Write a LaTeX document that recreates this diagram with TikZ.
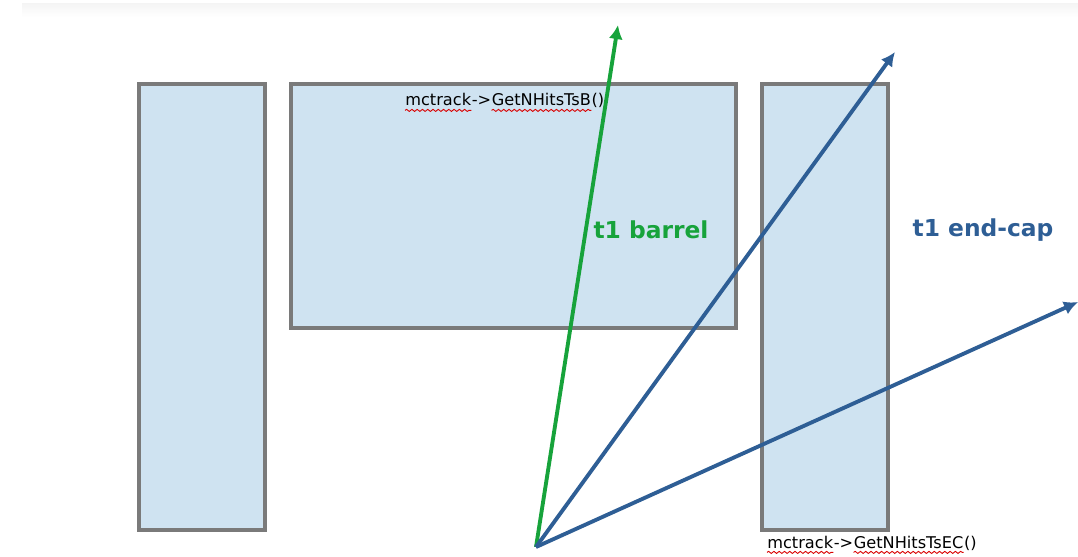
\documentclass[tikz,border=0pt]{standalone}
\usepackage{fontspec}
\setmainfont{DejaVu Sans}
\usetikzlibrary{arrows.meta,positioning,decorations.pathmorphing}
\definecolor{detfill}{HTML}{CFE3F1}
\definecolor{detline}{HTML}{7A7A7A}
\definecolor{trkgreen}{HTML}{17A33B}
\definecolor{trkblue}{HTML}{2E5E95}

\begin{document}
\begin{tikzpicture}[
  x=0.02cm, y=-0.02cm,
  det/.style={draw=detline, fill=detfill, line width=2pt},
  trk/.style={-{Latex[length=8pt, width=8pt]}, line width=2.2pt},
  code/.style={inner sep=0pt, font=\fontsize{9.2}{11}\selectfont},
  lbl/.style={font=\fontsize{13.3}{16}\selectfont\bfseries},
  squig/.style={draw=red!85!black, line width=0.5pt, decorate,
                decoration={snake, amplitude=0.6pt, segment length=3pt}}
]
\useasboundingbox (0,0) rectangle (1078,557);
\shade[top color=black!4, bottom color=white] (22,4) rectangle (1078,17);

% detector layers
\filldraw[det] (139,84) rectangle (265,530);
\filldraw[det] (291,84) rectangle (736,328);
\filldraw[det] (762,84) rectangle (888,530);

% hit counters
\node[code, anchor=base west] (mcB) at (405,106) {mctrack};
\node[code, base right=0pt of mcB] (opB) {->};
\node[code, base right=0pt of opB] (getB) {GetNHitsTsB};
\node[code, base right=0pt of getB] (parB) {()};
\node[code, anchor=base west] (mcE) at (767,548) {mctrack};
\node[code, base right=0pt of mcE] (opE) {->};
\node[code, base right=0pt of opE] (getE) {GetNHitsTsEC};
\node[code, base right=0pt of getE] (parE) {()};
\foreach \w in {mcB,getB,mcE,getE}
  \draw[squig] ([yshift=-2.5pt]\w.base west) -- ([yshift=-2.5pt]\w.base east);

% tracks
\coordinate (vtx) at (536,547);
\coordinate (tipB) at (618,25);
\coordinate (tipE) at (895,52);
\coordinate (tipF) at (1078,302);
\draw[trk, trkgreen] (vtx) -- (tipB);
\draw[trk, trkblue] (vtx) -- (tipE);
\draw[trk, trkblue] (vtx) -- (tipF);

\node[lbl, text=trkgreen] (barrel) at (651,230) {t1 barrel};
\node[lbl, text=trkblue] (endcap) at (983,230) {t1 end-cap};
\end{tikzpicture}
\end{document}
